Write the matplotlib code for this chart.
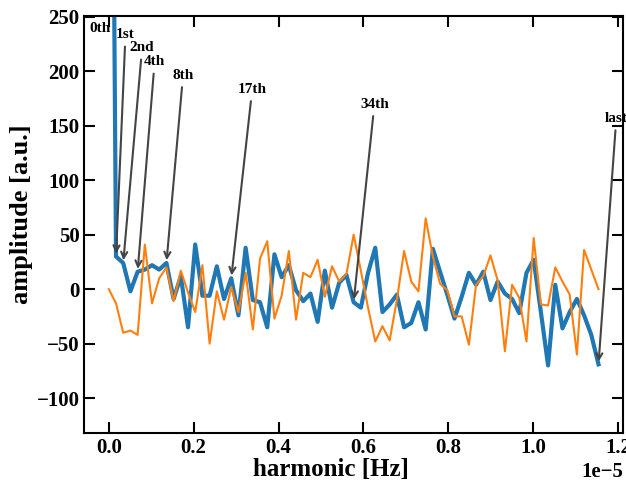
import numpy as np
import matplotlib
matplotlib.use("Agg")
import matplotlib.pyplot as plt

plt.rcParams["font.family"] = "serif"
plt.rcParams["font.serif"] = ["Liberation Serif", "DejaVu Serif"]
plt.rcParams["font.weight"] = "bold"
plt.rcParams["axes.labelweight"] = "bold"

# ── data ──────────────────────────────────────────────────────────────────────
df = 1.697e-7          # harmonic spacing [Hz]
harmonic_idx = np.arange(69)
freq = harmonic_idx * df

real_part = [950, 30, 24, -2, 16, 18, 22, 18, 24, -9,
             12, -35, 41, -6, -6, 21, -9, 10, -24, 38,
             -10, -12, -35, 32, 11, 22, -1, -11, -4, -30,
             17, -17, 6, 13, -12, -17, 15, 38, -21, -14,
             -5, -35, -31, -12, -37, 37, 16, -5, -27, -7,
             15, 4, 16, -10, 7, -4, -9, -22, 15, 27,
             -21, -70, 4, -36, -21, -9, -24, -42, -69]

imag_part = [0, -13, -40, -38, -42, 41, -13, 10, 20, -11,
             17, -3, -21, 22, -50, -2, -28, 2, -21, 15,
             -37, 28, 44, -27, -6, 35, -28, 15, 11, 27,
             -7, 21, 7, 14, 50, 17, -17, -48, -34, -47,
             -10, 35, 7, -2, 65, 30, 5, -1, -25, -25,
             -51, 4, 12, 31, 8, -57, 4, -8, -48, 47,
             -14, -15, 20, 7, -5, -60, 36, 18, 0]

ann_idx    = [0, 1, 2, 4, 8, 17, 34, 68]
ann_labels = ["0th", "1st", "2nd", "4th", "8th", "17th", "34th", "last"]
ann_text_x = [-0.0207e-5, 0.0393e-5, 0.0786e-5, 0.108e-5, 0.175e-5,
              0.338e-5, 0.626e-5, 1.196e-5]
ann_text_y = [239.2, 233.7, 221.8, 208.9, 196.5, 183.6, 169.9, 156.9]

# ── plot ──────────────────────────────────────────────────────────────────────
fig = plt.figure(figsize=(6.26, 4.82), dpi=100)
ax = fig.add_axes([0.1347, 0.1017, 0.8605, 0.8657])

ax.plot(freq, real_part, color="#1f77b4", lw=3)
ax.plot(freq, imag_part, color="#ff7f0e", lw=1.5)

for k, lab, tx, ty in zip(ann_idx, ann_labels, ann_text_x, ann_text_y):
    if k == 0:
        ax.text(tx, ty, lab, ha="center", va="center", fontsize=11,
                fontweight="bold")
        continue
    ax.annotate(lab, xy=(freq[k], real_part[k]), xytext=(tx, ty),
                ha="center", va="center", fontsize=11, fontweight="bold",
                annotation_clip=False,
                arrowprops=dict(arrowstyle="->", color="#444444", lw=1.5))

ax.set_xlim(-0.0577e-5, 1.2117e-5)
ax.set_ylim(-132, 251)
ax.set_yticks([-100, -50, 0, 50, 100, 150, 200, 250])

ax.set_xlabel("harmonic [Hz]", fontsize=18, fontweight="bold")
ax.set_ylabel("amplitude [a.u.]", fontsize=19, fontweight="bold")
ax.xaxis.set_label_coords(0.458, -0.059)
ax.yaxis.set_label_coords(-0.095, 0.525)
ax.tick_params(direction="in", length=8, width=1.5, top=True, right=True,
               labelsize=15)
ax.xaxis.get_offset_text().set_fontsize(15)
ax.xaxis.get_offset_text().set_fontweight("bold")
for s in ax.spines.values():
    s.set_linewidth(1.5)

fig.savefig("out.png", dpi=100)
